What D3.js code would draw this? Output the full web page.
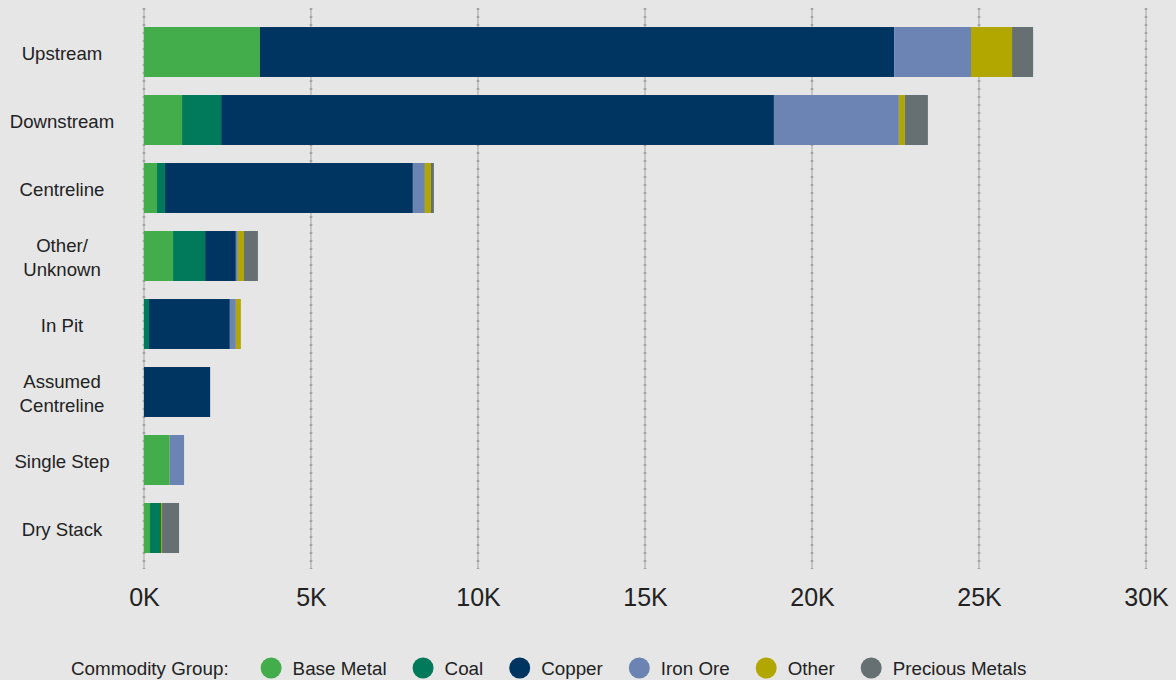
<!DOCTYPE html>
<html>
<head>
<meta charset="utf-8">
<script src="https://cdn.jsdelivr.net/npm/d3@7"></script>
<style>
  html, body { margin: 0; padding: 0; background: #e6e6e6; }
  svg { display: block; font-family: "Liberation Sans", Arial, sans-serif; }
</style>
</head>
<body>
<svg id="chart" width="1176" height="680"></svg>
<script>
// ---- data ----
const categories = ["Upstream", "Downstream", "Centreline", "Other/\nUnknown", "In Pit", "Assumed\nCentreline", "Single Step", "Dry Stack"];
const seriesNames = ["Base Metal", "Coal", "Copper", "Iron Ore", "Other", "Precious Metals"];
const baseMetal =      [3470, 1140,  390,  870,    0,    0,  770, 180];
const coal =           [   0, 1170,  240,  960,  150,    0,    0, 330];
const copper =         [18990, 16550, 7420, 920, 2420, 1980,   0,   0];
const ironOre =        [2300, 3740,  360,   60,  180,    0,  430,   0];
const other =          [1230,  180,  180,  180,  150,    0,    0,  30];
const preciousMetals = [ 630,  690,   90,  420,    0,    0,    0, 510];
const tickValues = [0, 5000, 10000, 15000, 20000, 25000, 30000];
const tickLabels = ["0K", "5K", "10K", "15K", "20K", "25K", "30K"];
const colors = ["#42ad4a", "#007a5a", "#003562", "#6b84b3", "#b2a600", "#666f71"];
const legendTitle = "Commodity Group:";

// ---- build table ----
const seriesValues = [baseMetal, coal, copper, ironOre, other, preciousMetals];
const rows = categories.map((c, i) => {
  const r = { category: c };
  seriesNames.forEach((s, j) => r[s] = seriesValues[j][i]);
  return r;
});
const stacked = d3.stack().keys(seriesNames)(rows);

const svg = d3.select("#chart");
const x = d3.scaleLinear().domain([0, 30000]).range([144, 1146]);
const y = d3.scaleBand().domain(categories).range([18, 562]).paddingInner(0.265).paddingOuter(0.1325);
const color = d3.scaleOrdinal().domain(seriesNames).range(colors);

// gridlines
const grid = svg.append("g");
grid.selectAll("line.solid").data(tickValues).join("line")
  .attr("class", "solid")
  .attr("x1", d => x(d)).attr("x2", d => x(d))
  .attr("y1", 8).attr("y2", 569)
  .attr("stroke", "#a3a3a3").attr("stroke-width", 1);
grid.selectAll("line.dots").data(tickValues).join("line")
  .attr("class", "dots")
  .attr("x1", d => x(d)).attr("x2", d => x(d))
  .attr("y1", 8).attr("y2", 569)
  .attr("stroke", "#a3a3a3").attr("stroke-width", 2.6)
  .attr("stroke-dasharray", "2,6");

// bars
svg.append("g").selectAll("g").data(stacked).join("g")
  .attr("fill", d => color(d.key))
  .selectAll("rect").data(d => d).join("rect")
  .attr("x", d => x(d[0]))
  .attr("y", d => y(d.data.category))
  .attr("width", d => Math.max(0, x(d[1]) - x(d[0])))
  .attr("height", y.bandwidth());

// y labels
const yl = svg.append("g");
categories.forEach(c => {
  const lines = c.split("\n");
  const cy = y(c) + y.bandwidth() / 2 + 1;
  const t = yl.append("text")
    .attr("x", 62)
    .attr("text-anchor", "middle")
    .attr("font-size", 18.6)
    .attr("fill", "#222");
  lines.forEach((ln, k) => {
    t.append("tspan")
      .attr("x", 62)
      .attr("y", cy + (k - (lines.length - 1) / 2) * 24)
      .attr("dy", "0.35em")
      .text(ln);
  });
});

// x axis
const xAxis = d3.axisBottom(x).tickValues(tickValues).tickFormat((d, i) => tickLabels[i]).tickSize(0);
const ax = svg.append("g").attr("transform", "translate(0,585)").call(xAxis);
ax.select(".domain").remove();
ax.selectAll("text").attr("font-size", 25).attr("fill", "#222")
  .attr("font-family", "'Liberation Sans', Arial, sans-serif").attr("dy", "0.7em");

// legend
const lg = svg.append("g");
const ly = 668;
const titleT = lg.append("text").attr("x", 71).attr("y", ly).attr("dy", "0.35em")
  .attr("font-size", 18.8).attr("fill", "#222").text(legendTitle);
let lx = 71 + titleT.node().getComputedTextLength() + 32;
seriesNames.forEach(s => {
  lg.append("circle").attr("cx", lx + 10.5).attr("cy", ly).attr("r", 10.5).attr("fill", color(s));
  const t = lg.append("text").attr("x", lx + 32).attr("y", ly).attr("dy", "0.35em")
    .attr("font-size", 18.8).attr("fill", "#222").text(s);
  lx = lx + 32 + t.node().getComputedTextLength() + 26;
});
</script>
</body>
</html>
